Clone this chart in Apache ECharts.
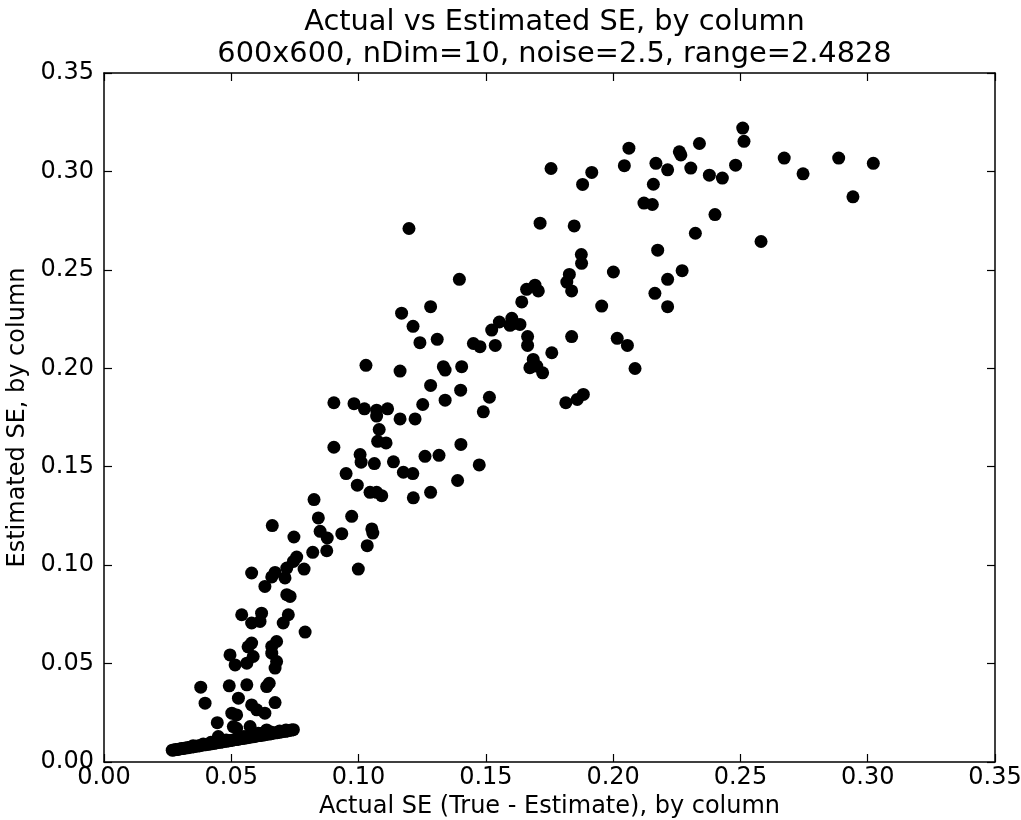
<!DOCTYPE html>
<html>
<head>
<meta charset="utf-8">
<script src="https://cdn.jsdelivr.net/npm/echarts@6/dist/echarts.min.js"></script>
<style>
html,body{margin:0;padding:0;background:#fff;}
#chart{width:1021px;height:820px;}
</style>
</head>
<body>
<div id="chart"></div>
<script>
const titleLines = ["Actual vs Estimated SE, by column", "600x600, nDim=10, noise=2.5, range=2.4828"];
const xAxisName = "Actual SE (True - Estimate), by column";
const yAxisName = "Estimated SE, by column";
const tickValues = [0.00, 0.05, 0.10, 0.15, 0.20, 0.25, 0.30, 0.35];

// Scattered points: [actual SE, estimated SE]
const upperPoints = [
  [0.2509,0.3220],[0.2514,0.3153],[0.2481,0.3032],[0.2378,0.2981],[0.2429,0.2966],[0.2672,0.3068],
  [0.2746,0.2988],[0.2886,0.3068],[0.3022,0.3041],[0.2942,0.2871],[0.2400,0.2781],[0.2581,0.2644],
  [0.1756,0.3015],[0.1916,0.2995],[0.1880,0.2934],[0.2062,0.3118],[0.2044,0.3029],[0.2168,0.3041],
  [0.2214,0.3008],[0.2260,0.3100],[0.2266,0.3084],[0.2339,0.3142],[0.2305,0.3017],[0.2158,0.2935],
  [0.2121,0.2839],[0.2154,0.2832],[0.2323,0.2686],[0.1713,0.2737],[0.1847,0.2723],[0.1875,0.2578],
  [0.1876,0.2533],[0.2175,0.2600],[0.2271,0.2496],[0.2214,0.2452],[0.2164,0.2381],[0.2214,0.2313],
  [0.2001,0.2489],[0.1828,0.2477],[0.1818,0.2438],[0.1837,0.2393],[0.1660,0.2401],[0.1693,0.2422],
  [0.1706,0.2393],[0.1641,0.2337],[0.1955,0.2316]
];
const middlePoints = [
  [0.1396,0.2452],[0.1283,0.2313],[0.1553,0.2235],[0.1523,0.2194],[0.1602,0.2254],[0.1611,0.2228],
  [0.1634,0.2223],[0.1595,0.2218],[0.1664,0.2161],[0.1664,0.2116],[0.1759,0.2079],[0.1837,0.2161],
  [0.2016,0.2152],[0.2056,0.2116],[0.2086,0.1999],[0.1309,0.2147],[0.1451,0.2126],[0.1477,0.2110],
  [0.1537,0.2116],[0.1686,0.2045],[0.1673,0.2003],[0.1700,0.2011],[0.1723,0.1977],[0.1333,0.2008],
  [0.1340,0.1991],[0.1405,0.2008],[0.1283,0.1913],[0.1401,0.1889],[0.1252,0.1816],[0.1340,0.1838],
  [0.1514,0.1853],[0.1490,0.1779],[0.1814,0.1825],[0.1859,0.1842],[0.1883,0.1867],
  [0.1198,0.2710],[0.1169,0.2280],[0.1214,0.2213],[0.1241,0.2130],
  [0.1029,0.2015],[0.1163,0.1986],[0.0903,0.1825],[0.0982,0.1820],[0.1023,0.1794],[0.1071,0.1787],
  [0.1114,0.1794],[0.1071,0.1757],[0.1163,0.1743],[0.1222,0.1743],[0.1081,0.1689],[0.1075,0.1629],
  [0.1108,0.1621],[0.0903,0.1599],[0.1006,0.1562],[0.1010,0.1523],[0.1062,0.1516],[0.1137,0.1525],
  [0.1176,0.1472],[0.1213,0.1465],[0.1261,0.1553],[0.1316,0.1558],[0.1402,0.1613],[0.1474,0.1509],
  [0.1389,0.1430],[0.1283,0.1370],[0.1215,0.1342],[0.0951,0.1465],[0.0995,0.1406],[0.1045,0.1370],
  [0.1091,0.1353],[0.1071,0.1370],[0.0973,0.1248],[0.1052,0.1184],[0.1056,0.1163],[0.1034,0.1099]
];
const lowerPoints = [
  [0.0825,0.1333],[0.0842,0.1240],[0.0661,0.1201],[0.0746,0.1143],[0.0849,0.1172],[0.0877,0.1138],
  [0.0934,0.1160],[0.0875,0.1073],[0.0820,0.1065],[0.0757,0.1041],[0.0744,0.1019],[0.0786,0.0980],
  [0.0718,0.0985],[0.0999,0.0980],[0.0580,0.0960],[0.0672,0.0963],[0.0659,0.0940],[0.0711,0.0935],
  [0.0632,0.0892],[0.0718,0.0850],[0.0731,0.0841],[0.0724,0.0748],[0.0704,0.0706],[0.0790,0.0660],
  [0.0619,0.0756],[0.0580,0.0706],[0.0541,0.0748],[0.0613,0.0714],[0.0580,0.0604],[0.0678,0.0612],
  [0.0659,0.0587],[0.0659,0.0553],[0.0678,0.0510],[0.0672,0.0477],[0.0586,0.0536],[0.0561,0.0502],
  [0.0566,0.0585],[0.0495,0.0544],[0.0515,0.0493],[0.0380,0.0380],[0.0397,0.0299],[0.0492,0.0387],
  [0.0561,0.0392],[0.0639,0.0383],[0.0649,0.0400],[0.0528,0.0324],[0.0502,0.0248],[0.0521,0.0239],
  [0.0580,0.0290],[0.0632,0.0248],[0.0672,0.0302],[0.0445,0.0200],[0.0508,0.0180],[0.0574,0.0180],
  [0.0606,0.0146],[0.0600,0.0265],[0.0639,0.0163],[0.0449,0.0129],[0.0521,0.0171]
];
// Dense band of small-SE columns near the bottom
const bandPoints = [
  [0.0268,0.0060],[0.0275,0.0061],[0.0282,0.0063],[0.0290,0.0064],[0.0297,0.0066],[0.0305,0.0068],
  [0.0312,0.0069],[0.0320,0.0071],[0.0328,0.0072],[0.0336,0.0075],[0.0344,0.0076],[0.0352,0.0078],
  [0.0360,0.0080],[0.0368,0.0081],[0.0376,0.0083],[0.0384,0.0085],[0.0392,0.0087],[0.0400,0.0088],
  [0.0408,0.0090],[0.0416,0.0092],[0.0424,0.0093],[0.0432,0.0095],[0.0440,0.0097],[0.0448,0.0099],
  [0.0456,0.0100],[0.0464,0.0102],[0.0472,0.0104],[0.0480,0.0106],[0.0488,0.0107],[0.0496,0.0109],
  [0.0504,0.0111],[0.0512,0.0113],[0.0520,0.0114],[0.0528,0.0116],[0.0536,0.0118],[0.0544,0.0120],
  [0.0552,0.0121],[0.0560,0.0123],[0.0568,0.0125],[0.0576,0.0127],[0.0584,0.0128],[0.0592,0.0130],
  [0.0600,0.0132],[0.0608,0.0134],[0.0616,0.0135],[0.0624,0.0137],[0.0632,0.0139],[0.0640,0.0141],
  [0.0648,0.0142],[0.0656,0.0144],[0.0664,0.0146],[0.0672,0.0148],[0.0680,0.0149],[0.0688,0.0151],
  [0.0696,0.0153],[0.0704,0.0155],[0.0712,0.0156],[0.0720,0.0158],[0.0728,0.0160],[0.0736,0.0162],
  [0.0744,0.0164],[0.0420,0.0100],[0.0480,0.0112],[0.0530,0.0124],[0.0550,0.0130],[0.0585,0.0138],
  [0.0620,0.0146],[0.0655,0.0152],[0.0690,0.0158],[0.0715,0.0163],[0.0350,0.0082],[0.0390,0.0092]
];

const FONT = "DejaVu Sans";
const AXIS_COLOR = "#000";
const chart = echarts.init(document.getElementById('chart'), null, {renderer: 'canvas'});

function baseAxis(extra) {
  return Object.assign({
    type: 'value',
    min: tickValues[0],
    max: tickValues[tickValues.length - 1],
    interval: 0.05,
    gridIndex: 0,
    axisLine: {show: true, onZero: false, lineStyle: {color: AXIS_COLOR, width: 1.5}},
    axisTick: {show: true, inside: true, length: 8, lineStyle: {color: AXIS_COLOR, width: 1.2}},
    splitLine: {show: false},
    axisLabel: {show: false}
  }, extra);
}
const labelStyle = {
  show: true, color: '#000', fontSize: 24, fontFamily: FONT,
  showMinLabel: true, showMaxLabel: true,
  formatter: v => v.toFixed(2)
};

const GRID = {left: 104, right: 26, top: 73, bottom: 58};
const plotCenterX = GRID.left + (1021 - GRID.left - GRID.right) / 2;

chart.setOption({
  animation: false,
  backgroundColor: '#fff',
  title: {
    text: titleLines.join('\n'),
    left: plotCenterX,
    textAlign: 'center',
    top: 2,
    textStyle: {fontFamily: FONT, fontSize: 28.8, fontWeight: 'normal', color: '#000', lineHeight: 32}
  },
  grid: Object.assign({containLabel: false, outerBoundsMode: 'none'}, GRID),
  xAxis: [
    baseAxis({
      position: 'bottom',
      axisLabel: Object.assign({margin: 4}, labelStyle),
      name: xAxisName, nameLocation: 'middle', nameGap: 28,
      nameTextStyle: {fontFamily: FONT, fontSize: 24, color: '#000'}
    }),
    baseAxis({position: 'top'})
  ],
  yAxis: [
    baseAxis({
      position: 'left',
      axisLabel: Object.assign({margin: 10}, labelStyle),
      name: yAxisName, nameLocation: 'middle', nameGap: 67,
      nameTextStyle: {fontFamily: FONT, fontSize: 24, color: '#000'}
    }),
    baseAxis({position: 'right'})
  ],
  series: [upperPoints, middlePoints, lowerPoints, bandPoints].map(pts => ({
    type: 'scatter',
    xAxisIndex: 0,
    yAxisIndex: 0,
    data: pts,
    symbol: 'circle',
    symbolSize: 13,
    itemStyle: {color: '#000', opacity: 1},
    emphasis: {disabled: true}
  }))
});
</script>
</body>
</html>
